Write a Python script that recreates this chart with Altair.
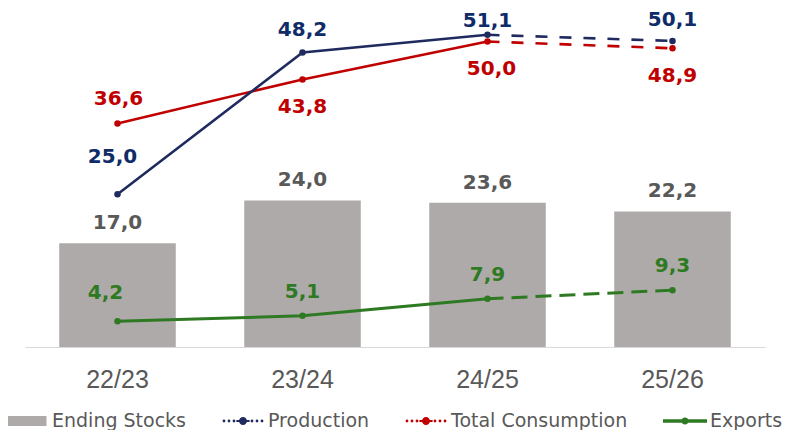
import altair as alt
import pandas as pd

categories = ["22/23", "23/24", "24/25", "25/26"]
ending_stocks = [17.0, 24.0, 23.6, 22.2]
production = [25.0, 48.2, 51.1, 50.1]
consumption = [36.6, 43.8, 50.0, 48.9]
exports = [4.2, 5.1, 7.9, 9.3]
series_names = ["Ending Stocks", "Production", "Total Consumption", "Exports"]
forecast_start = 2  # index from which lines are dashed

C_BAR = "#AEAAAA"
C_GRAY_TXT = "#595959"
C_NAVY = "#1F2B5E"
C_NAVY_TXT = "#0F2C69"
C_RED = "#C00000"
C_GREEN = "#2E7A22"


def fmt(v):
    return f"{v:.1f}".replace(".", ",")


def frame(values):
    return pd.DataFrame({
        "cat": categories,
        "idx": list(range(len(categories))),
        "v": values,
        "label": [fmt(v) for v in values],
    })


df_stocks = frame(ending_stocks)
df_prod = frame(production)
df_cons = frame(consumption)
df_exp = frame(exports)

x_enc = alt.X("cat:N", sort=categories,
              scale=alt.Scale(domain=categories, paddingInner=0.37, paddingOuter=0.185),
              axis=alt.Axis(title=None, labelAngle=0, ticks=False, domainColor="#D9D9D9",
                            domainWidth=1.2, labelFont="Liberation Sans", labelFontSize=25,
                            labelColor=C_GRAY_TXT, labelPadding=20, grid=False))
y_scale = alt.Scale(domain=[0, 55], nice=False, zero=True)
y_enc = alt.Y("v:Q", scale=y_scale, axis=None)

layers = []

# bars
layers.append(alt.Chart(df_stocks).mark_bar(color=C_BAR).encode(x=x_enc, y=y_enc))


def line_layers(df, color, width, dash):
    solid = alt.Chart(df).transform_filter(alt.datum.idx <= forecast_start).mark_line(
        color=color, strokeWidth=width).encode(x=x_enc, y=y_enc)
    dashed = alt.Chart(df).transform_filter(alt.datum.idx >= forecast_start).mark_line(
        color=color, strokeWidth=width, strokeDash=dash).encode(x=x_enc, y=y_enc)
    pts = alt.Chart(df).mark_circle(color=color, size=42, opacity=1).encode(x=x_enc, y=y_enc)
    return [solid, dashed, pts]


layers += line_layers(df_exp, C_GREEN, 3, [16, 8])
layers += line_layers(df_cons, C_RED, 2.6, [12, 12])
layers += line_layers(df_prod, C_NAVY, 2.6, [12, 12])


def text_layer(df, color, idxs, dy, dx=0):
    return alt.Chart(df).transform_filter(
        alt.FieldOneOfPredicate(field="idx", oneOf=idxs)
    ).mark_text(font="DejaVu Sans", fontWeight="bold", fontSize=20, color=color,
                baseline="middle", align="center", dy=dy, dx=dx).encode(
        x=x_enc, y=y_enc, text="label:N")


layers += [
    text_layer(df_stocks, C_GRAY_TXT, [0, 1, 2, 3], -20),
    text_layer(df_exp, C_GREEN, [0], -28, -12),
    text_layer(df_exp, C_GREEN, [1, 2, 3], -24),
    text_layer(df_cons, C_RED, [0], -24, 1),
    text_layer(df_cons, C_RED, [1, 3], 28),
    text_layer(df_cons, C_RED, [2], 27, 4),
    text_layer(df_prod, C_NAVY_TXT, [0], -37, -5),
    text_layer(df_prod, C_NAVY_TXT, [1], -23),
    text_layer(df_prod, C_NAVY_TXT, [2], -14),
    text_layer(df_prod, C_NAVY_TXT, [3], -21),
]


# legend symbols (custom paths, unit box scaled by sqrt(size)/2)
def circ(cx, r):
    return f"M{cx - r},0A{r},{r} 0 1 1 {cx + r},0A{r},{r} 0 1 1 {cx - r},0Z"


rect_path = "M-0.975,-0.25H0.975V0.25H-0.975Z"
dotted_path = "".join(circ(c, 0.07) for c in [-0.95, -0.7, -0.45, 0.45, 0.7, 0.95]) + \
    "M-0.33,-0.05H0.33V0.05H-0.33Z" + circ(0, 0.2)
solid_path = "M-1.1,-0.085H1.1V0.085H-1.1Z" + circ(0, 0.18)

legend_df = pd.DataFrame({"series": series_names})
legend_layer = alt.Chart(legend_df).mark_point(filled=True, opacity=1, size=1600, clip=True).encode(
    x=alt.value(-500), y=alt.value(-500),
    color=alt.Color("series:N", sort=series_names,
                    scale=alt.Scale(domain=series_names, range=[C_BAR, C_NAVY, C_RED, C_GREEN]),
                    legend=alt.Legend(title=None, orient="none", legendX=-18, legendY=390,
                                      direction="horizontal", symbolSize=1600,
                                      symbolStrokeWidth=0, symbolOpacity=1,
                                      labelFont="DejaVu Sans", labelFontSize=19,
                                      labelColor=C_GRAY_TXT, labelOffset=5, labelLimit=400,
                                      columnPadding=35, padding=0)),
    shape=alt.Shape("series:N", sort=series_names,
                    scale=alt.Scale(domain=series_names,
                                    range=[rect_path, dotted_path, dotted_path, solid_path])),
)
layers.append(legend_layer)

chart = alt.layer(*layers).properties(
    width=740, height=336,
    autosize=alt.AutoSizeParams(type="none"),
    padding={"left": 17, "top": 3, "right": 25, "bottom": 83},
).configure_view(stroke=None)

chart.save("out.html", embed_options={"renderer": "svg", "actions": False})
